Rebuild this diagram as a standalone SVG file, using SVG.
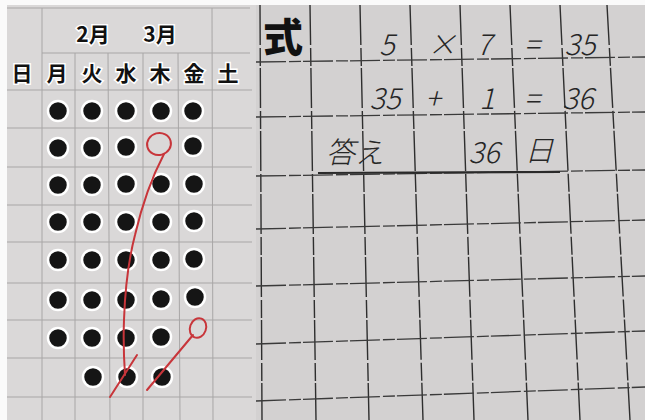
<svg xmlns="http://www.w3.org/2000/svg" width="645" height="420" viewBox="0 0 645 420">
<style>
.lg{stroke:#a8a6a6;stroke-width:1;fill:none}
.rg{stroke:#2e2e2e;stroke-width:1.4;fill:none;stroke-dasharray:40 3 18 2}
.rh{stroke:#3a3a3a;stroke-width:1.3;fill:none;stroke-dasharray:30 3 12 2}
.hd{font-family:"Noto Sans CJK JP",sans-serif;font-weight:700;font-size:21px;fill:#111;stroke:#fff;stroke-width:3;paint-order:stroke;text-anchor:middle}
.hw{font-family:"Noto Sans CJK JP",sans-serif;font-weight:300;font-size:29px;fill:#262626;text-anchor:middle;font-style:italic}
.red{stroke:#c8353a;stroke-width:2;fill:none;stroke-linecap:round}
</style>
<defs>
<circle id="dot" r="10" fill="#151515" stroke="#fff" stroke-width="2.5"/>
</defs>
<rect width="645" height="420" fill="#fafafa"/>
<rect x="7" y="5" width="249" height="415" fill="#dad8d8"/>
<rect x="256" y="5" width="389" height="415" fill="#d3d1d1"/>

<g id="calendar-grid">
<line class="lg" x1="7" y1="8" x2="250" y2="8"/>
<line class="lg" x1="42" y1="53" x2="250" y2="53"/>
<line class="lg" x1="7" y1="90" x2="252" y2="90"/>
<line class="lg" x1="7" y1="128" x2="252" y2="128"/>
<line class="lg" x1="7" y1="167" x2="252" y2="167"/>
<line class="lg" x1="7" y1="205" x2="252" y2="205"/>
<line class="lg" x1="7" y1="242" x2="252" y2="242"/>
<line class="lg" x1="7" y1="283" x2="252" y2="283"/>
<line class="lg" x1="7" y1="320" x2="252" y2="320"/>
<line class="lg" x1="7" y1="358" x2="252" y2="358"/>
<line class="lg" x1="7" y1="397" x2="252" y2="397"/>
<line class="lg" x1="42" y1="8" x2="42" y2="420"/>
<line class="lg" x1="75" y1="53" x2="75" y2="420"/>
<line class="lg" x1="108" y1="53" x2="110" y2="420"/>
<line class="lg" x1="143" y1="53" x2="143" y2="420"/>
<line class="lg" x1="178" y1="53" x2="180" y2="420"/>
<line class="lg" x1="212" y1="8" x2="213" y2="420"/>
</g>

<g id="calendar-header">
<text class="hd" x="93" y="42">2月</text>
<text class="hd" x="160" y="42">3月</text>
<text class="hd" x="22" y="81">日</text>
<text class="hd" x="57" y="81">月</text>
<text class="hd" x="92" y="81">火</text>
<text class="hd" x="126" y="81">水</text>
<text class="hd" x="160" y="81">木</text>
<text class="hd" x="194" y="81">金</text>
<text class="hd" x="228" y="81">土</text>
</g>

<g id="dots">
<use href="#dot" x="58" y="111"/><use href="#dot" x="92" y="111"/><use href="#dot" x="126" y="111"/><use href="#dot" x="161" y="111"/><use href="#dot" x="193" y="111"/>
<use href="#dot" x="58" y="148"/><use href="#dot" x="92" y="148"/><use href="#dot" x="126" y="147"/><use href="#dot" x="193" y="146"/>
<use href="#dot" x="58" y="185"/><use href="#dot" x="92" y="185"/><use href="#dot" x="126" y="184"/><use href="#dot" x="161" y="184"/><use href="#dot" x="194" y="184"/>
<use href="#dot" x="58" y="222"/><use href="#dot" x="92" y="222"/><use href="#dot" x="126" y="222"/><use href="#dot" x="161" y="222"/><use href="#dot" x="194" y="221"/>
<use href="#dot" x="58" y="260"/><use href="#dot" x="92" y="260"/><use href="#dot" x="126" y="260"/><use href="#dot" x="161" y="260"/><use href="#dot" x="194" y="259"/>
<use href="#dot" x="58" y="300"/><use href="#dot" x="92" y="300"/><use href="#dot" x="126" y="300"/><use href="#dot" x="161" y="299"/><use href="#dot" x="195" y="297"/>
<use href="#dot" x="58" y="338"/><use href="#dot" x="92" y="338"/><use href="#dot" x="126" y="338"/><use href="#dot" x="161" y="337"/>
<use href="#dot" x="93" y="377"/><use href="#dot" x="127" y="377"/><use href="#dot" x="162" y="377"/>
</g>

<g id="red-marks">
<ellipse class="red" cx="159" cy="144" rx="12" ry="11" transform="rotate(-15 159 144)"/>
<path class="red" d="M164 154 C153 175 142 205 135 235 C128 262 125 290 124 320 C123 345 124 360 125 375"/>
<path class="red" d="M137 355 L110 397"/>
<ellipse class="red" cx="198" cy="328" rx="8" ry="10" transform="rotate(20 198 328)"/>
<path class="red" d="M193 335 L147 390"/>
</g>

<g id="notebook-grid">
<line class="rg" x1="260" y1="5" x2="262" y2="420"/>
<line class="rg" x1="310" y1="5" x2="316" y2="420"/>
<line class="rg" x1="360" y1="5" x2="369" y2="420"/>
<line class="rg" x1="410" y1="5" x2="423" y2="420"/>
<line class="rg" x1="460" y1="5" x2="474" y2="420"/>
<line class="rg" x1="510" y1="5" x2="528" y2="420"/>
<line class="rg" x1="560" y1="5" x2="580" y2="420"/>
<line class="rg" x1="607" y1="5" x2="630" y2="420"/>
<line class="rh" x1="256" y1="62" x2="645" y2="57"/>
<line class="rh" x1="256" y1="117" x2="645" y2="112"/>
<line class="rh" x1="256" y1="176" x2="645" y2="170"/>
<line class="rh" x1="256" y1="229" x2="645" y2="220"/>
<line class="rh" x1="256" y1="286" x2="645" y2="276"/>
<line class="rh" x1="256" y1="344" x2="645" y2="331"/>
<line class="rh" x1="256" y1="401" x2="645" y2="387"/>
<line x1="318" y1="173" x2="560" y2="172" stroke="#2a2a2a" stroke-width="2.2"/>
</g>

<g id="formula">
<text x="283" y="52" font-family="Noto Sans CJK JP, sans-serif" font-weight="900" font-size="40" fill="#111" text-anchor="middle">式</text>
<text class="hw" x="387" y="55">5</text>
<text class="hw" x="442" y="55">×</text>
<text class="hw" x="484" y="55">7</text>
<text class="hw" x="532" y="55">=</text>
<text class="hw" x="580" y="55">35</text>
<text class="hw" x="385" y="109">35</text>
<text class="hw" x="433" y="109">+</text>
<text class="hw" x="487" y="109">1</text>
<text class="hw" x="532" y="109">=</text>
<text class="hw" x="578" y="109">36</text>
<text class="hw" x="355" y="163">答え</text>
<text class="hw" x="484" y="163">36</text>
<text class="hw" x="539" y="161" font-size="22">日</text>
</g>
</svg>
